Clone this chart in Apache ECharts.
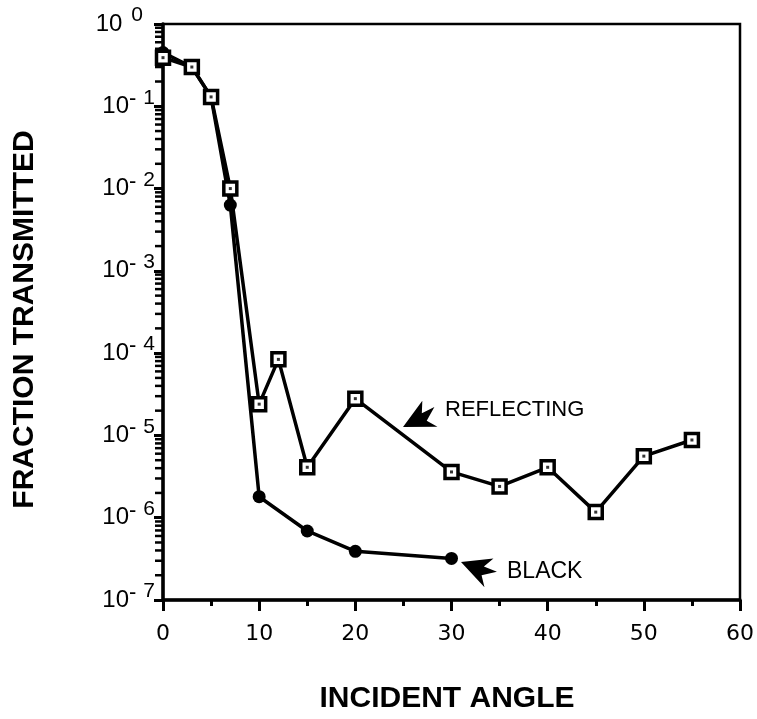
<!DOCTYPE html>
<html><head><meta charset="utf-8">
<script src="https://cdn.jsdelivr.net/npm/echarts@6/dist/echarts.min.js"></script>
<style>html,body{margin:0;padding:0;background:#fff}#c{width:757px;height:719px}</style>
</head><body><div id="c"></div>
<script>
// ---- data ----
const angleRefl = [0, 3, 5, 7, 10, 12, 15, 20, 30, 35, 40, 45, 50, 55];
const fracRefl  = [0.39, 0.30, 0.13, 0.010, 2.4e-5, 8.4e-5, 4.1e-6, 2.8e-5, 3.6e-6, 2.4e-6, 4.1e-6, 1.17e-6, 5.6e-6, 8.8e-6];
const angleBlack = [0, 3, 5, 7, 10, 15, 20, 30];
const fracBlack  = [0.45, 0.30, 0.13, 6.3e-3, 1.8e-6, 6.9e-7, 3.9e-7, 3.2e-7];
const xTickValues = [0, 10, 20, 30, 40, 50, 60];
const yTickExponents = [0, -1, -2, -3, -4, -5, -6, -7];
const seriesNames = ['REFLECTING', 'BLACK'];
const xTitle = 'INCIDENT ANGLE';
const yTitle = 'FRACTION TRANSMITTED';

const pairs = (xs, ys) => xs.map((x, i) => [x, ys[i]]);
const reflData = pairs(angleRefl, fracRefl);
const blackData = pairs(angleBlack, fracBlack);

const chart = echarts.init(document.getElementById('c'), null, {renderer: 'canvas'});

// arrowhead polygon in local coords: tip at origin, tail along +x
const arrowPts = [[0,0],[29,-15],[23,-4],[37,-4],[24,5],[31,15]];

const option = {
  animation: false,
  backgroundColor: '#fff',
  grid: {left: 163, right: 17, top: 24, bottom: 118, show: true, borderColor: '#000', borderWidth: 2.5, backgroundColor: 'transparent'},
  xAxis: {
    type: 'value', min: 0, max: 60, interval: 10,
    axisLine: {show: true, lineStyle: {color: '#000', width: 3.5}},
    axisTick: {show: true, inside: false, length: 11, lineStyle: {color: '#000', width: 3}},
    minorTick: {show: true, splitNumber: 2, length: 6, lineStyle: {color: '#000', width: 3}},
    splitLine: {show: false},
    axisLabel: {
      margin: 23, color: '#000', fontFamily: 'DejaVu Sans', fontSize: 22,
      formatter: v => xTickValues.indexOf(v) >= 0 ? String(v) : ''
    },
    name: xTitle, nameLocation: 'middle', nameGap: 84,
    nameTextStyle: {color: '#000', fontFamily: 'Liberation Sans', fontWeight: 'bold', fontSize: 30, padding: [0, 9, 0, 0]}
  },
  yAxis: {
    type: 'log', logBase: 10, min: 1e-7, max: 1, interval: 1,
    axisLine: {show: true, lineStyle: {color: '#000', width: 3.5}},
    axisTick: {show: true, inside: false, length: 9, lineStyle: {color: '#000', width: 3}},
    splitLine: {show: false},
    axisLabel: {
      margin: 8, color: '#000', padding: [2, 0, 0, 0],
      formatter: function (v) {
        const e = Math.round(Math.log10(v));
        if (yTickExponents.indexOf(e) < 0) return '';
        if (e === 0) return '{b|10}{z|0}';
        return '{b|10}{m|-}{s|' + (-e) + '}';
      },
      rich: {
        b: {fontFamily: 'Liberation Sans', fontSize: 24, lineHeight: 22, color: '#000', verticalAlign: 'bottom'},
        m: {fontFamily: 'Liberation Sans', fontSize: 22, lineHeight: 22, color: '#000', verticalAlign: 'bottom', padding: [0, 7, 8, 0]},
        s: {fontFamily: 'Liberation Sans', fontSize: 21, lineHeight: 21, color: '#000', verticalAlign: 'bottom', padding: [0, 0, 10, 0]},
        z: {fontFamily: 'Liberation Sans', fontSize: 21, lineHeight: 21, color: '#000', verticalAlign: 'bottom', padding: [0, 12, 10, 9]}
      }
    },
    name: yTitle, nameLocation: 'middle', nameGap: 123,
    nameTextStyle: {color: '#000', fontFamily: 'Liberation Sans', fontWeight: 'bold', fontSize: 30, padding: [0, 15, 0, 0]}
  },
  series: [{
    name: seriesNames[0], type: 'line', data: reflData,
    symbol: 'rect', symbolSize: 13, showSymbol: true, z: 3,
    lineStyle: {color: '#000', width: 3.5},
    itemStyle: {color: '#fff', borderColor: '#000', borderWidth: 3.5}
  }, {
    name: seriesNames[0] + ' (centre)', type: 'scatter', data: reflData,
    symbol: 'rect', symbolSize: 3, z: 4, silent: true,
    itemStyle: {color: '#000'}
  }, {
    name: seriesNames[1], type: 'line', data: blackData,
    symbol: 'circle', symbolSize: 13, showSymbol: true, z: 2,
    lineStyle: {color: '#000', width: 3.5},
    itemStyle: {color: '#000'}
  }]
};
chart.setOption(option);

// log minor ticks (2..9 x 10^e), positioned through the log axis' own scale
const axisX = chart.convertToPixel({xAxisIndex: 0}, 0);
const graphics = [];
yTickExponents.filter(e => e < 0).forEach(e => {
  for (let k = 2; k <= 9; k++) {
    const py = chart.convertToPixel({yAxisIndex: 0}, k * Math.pow(10, e));
    graphics.push({type: 'line', shape: {x1: axisX - 8, y1: py, x2: axisX, y2: py}, style: {stroke: '#000', lineWidth: 2.5}, silent: true});
  }
});
graphics.push(
  {type: 'polygon', x: 403, y: 427, rotation: 0.46, shape: {points: arrowPts}, style: {fill: '#000'}},
  {type: 'text', x: 445, y: 410, style: {text: seriesNames[0], fill: '#000', font: '22px "Liberation Sans"', verticalAlign: 'middle'}},
  {type: 'polygon', x: 461, y: 562, rotation: -0.37, shape: {points: arrowPts}, style: {fill: '#000'}},
  {type: 'text', x: 507, y: 572, style: {text: seriesNames[1], fill: '#000', font: '23px "Liberation Sans"', verticalAlign: 'middle'}}
);
chart.setOption({graphic: graphics});
</script>
</body></html>
